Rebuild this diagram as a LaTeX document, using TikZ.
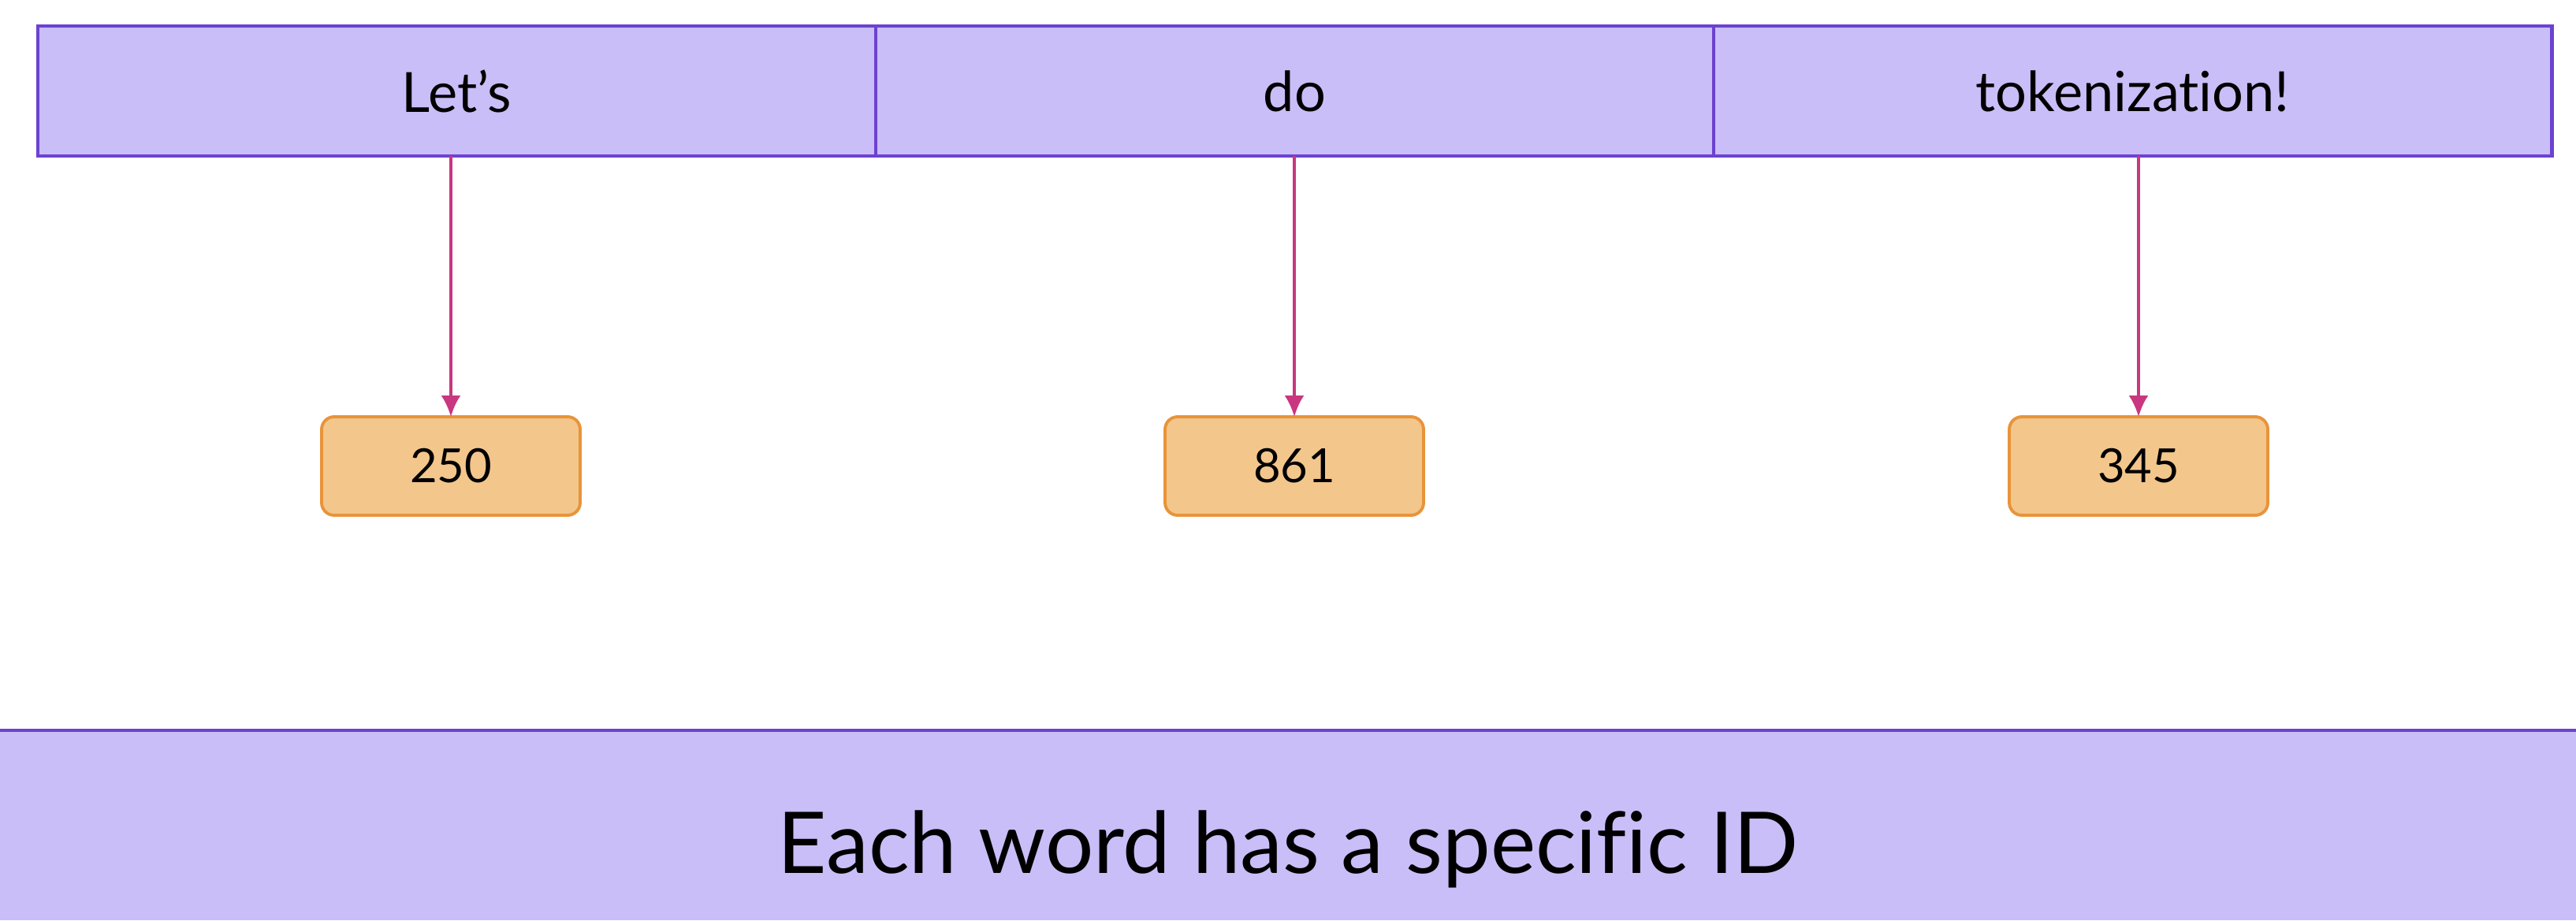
\documentclass[tikz,border=0pt]{standalone}
\usepackage{fontspec}
\setmainfont{Lato}[Ligatures=NoCommon]
\usepackage{tikz}
\usetikzlibrary{arrows.meta,calc,positioning}
\definecolor{wordfill}{RGB}{201,190,247}
\definecolor{worddraw}{RGB}{108,66,208}
\definecolor{idfill}{RGB}{243,198,140}
\definecolor{iddraw}{RGB}{232,148,58}
\definecolor{linkcol}{RGB}{200,55,127}
\tikzset{
  wordcell/.style={rectangle,draw=worddraw,fill=wordfill,line width=1.4pt,
    minimum width=10.63cm,minimum height=1.65cm,inner sep=0pt,outer sep=0pt,
    font=\fontsize{20}{23}\selectfont},
  idbox/.style={rectangle,rounded corners=0.16cm,draw=iddraw,fill=idfill,line width=1.1pt,
    minimum width=3.28cm,minimum height=1.25cm,inner sep=0pt,outer sep=0pt,
    font=\fontsize{17}{20}\selectfont},
  banner/.style={rectangle,fill=wordfill,minimum width=32.68cm,minimum height=2.41cm,
    inner sep=0pt,outer sep=0pt},
  captext/.style={inner sep=0pt,font=\fontsize{30.8}{35}\selectfont},
  link/.style={-{Latex[length=2.7mm,width=2.5mm]},line width=1.1pt,linkcol}
}
\begin{document}
\begin{tikzpicture}
  \useasboundingbox (0,0) rectangle (32.68,11.68);
  % words
  \node[wordcell] (w1) at (5.795,10.525) {Let’s};
  \node[wordcell] (w2) at (16.425,10.525) {do};
  \node[wordcell] (w3) at (27.055,10.525) {tokenization!};
  % ids
  \node[idbox] (id1) at (5.72,5.765) {250};
  \node[idbox] (id2) at (16.42,5.765) {861};
  \node[idbox] (id3) at (27.13,5.765) {345};
  \draw[link] (w1.south -| id1.north) -- (id1.north);
  \draw[link] (w2.south -| id2.north) -- (id2.north);
  \draw[link] (w3.south -| id3.north) -- (id3.north);
  % caption
  \node[banner] (cap) at (16.34,1.205) {};
  \draw[worddraw,line width=1.4pt] (cap.north west) -- (cap.north east);
  \node[captext] (captxt) at ($(cap.center)+(0,-0.3)$) {Each word has a specific ID};
\end{tikzpicture}
\end{document}
